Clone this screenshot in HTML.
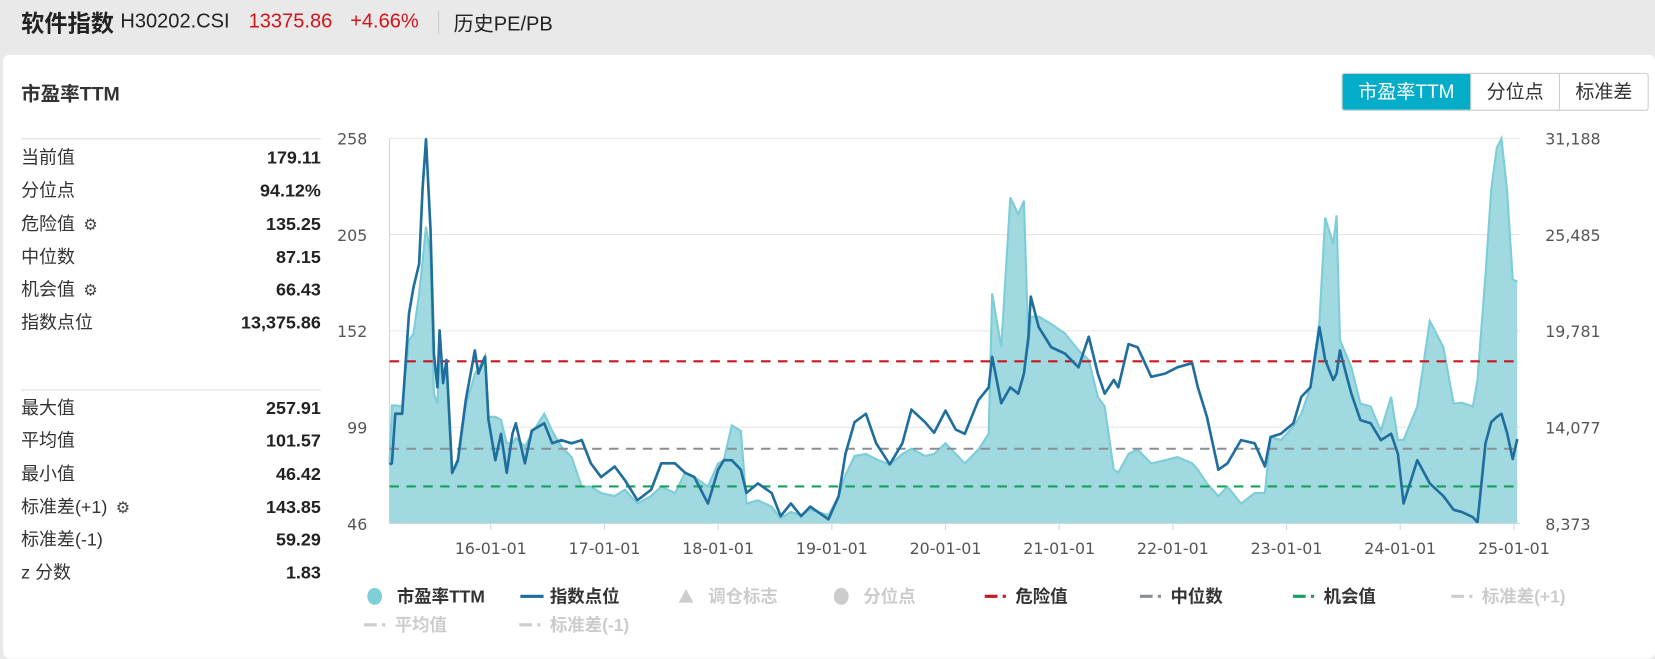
<!DOCTYPE html>
<html><head><meta charset="utf-8">
<style>
body{margin:0;width:1655px;height:658px;background:#e9e9e9;font-family:"Liberation Sans","Noto Sans CJK SC",sans-serif;overflow:hidden;position:relative}
#wrap{position:absolute;left:0;top:0;width:1568px;height:624px;transform:scale(1.05549);transform-origin:0 0}
.hdr{position:absolute;left:20px;top:7px;height:28px;display:flex;align-items:center;font-size:19px;color:#222}
.card{position:absolute;left:3px;top:52px;width:1565px;height:572px;background:#fff;border-radius:6px}
.title{position:absolute;left:20px;top:75px;font-size:18.5px;font-weight:bold;color:#333}
.btns{position:absolute;left:1271px;top:69px;height:34px;display:flex;border:1px solid #ccc;border-radius:3px;overflow:hidden}
.btns div{width:83px;text-align:center;line-height:34px;font-size:18px;color:#333;border-left:1px solid #ccc}
.btns div.on{background:#03adc8;color:#fff;border-left:none;width:121px}
.tbl{position:absolute;left:20px;width:284px;font-size:17px;color:#333}
.row{height:31.3px;display:flex;justify-content:space-between;align-items:baseline;line-height:31px}
.row b{font-weight:bold;color:#222}
.gear{display:inline-block;margin-left:8px;font-size:15px;color:#444}
</style></head><body>
<div id="wrap">
<div class="hdr">
<span style="font-weight:bold;font-size:22px">软件指数</span>
<span style="margin-left:6px">H30202.CSI</span>
<span style="margin-left:18px;color:#d4141a">13375.86</span>
<span style="margin-left:17px;color:#d4141a">+4.66%</span>
<span style="margin-left:18px;width:1px;height:22px;background:#ccc"></span>
<span style="margin-left:14px">历史PE/PB</span>
</div>
<div class="card"></div>
<div class="title">市盈率TTM</div>
<div class="btns">
<div class="on">市盈率TTM</div>
<div>分位点</div>
<div>标准差</div>
</div>
<div class="tbl" style="top:131px;border-top:1px solid #ddd;padding-top:2px">
<div class="row"><span>当前值</span><b>179.11</b></div>
<div class="row"><span>分位点</span><b>94.12%</b></div>
<div class="row"><span>危险值<span class="gear">⚙</span></span><b>135.25</b></div>
<div class="row"><span>中位数</span><b>87.15</b></div>
<div class="row"><span>机会值<span class="gear">⚙</span></span><b>66.43</b></div>
<div class="row"><span>指数点位</span><b>13,375.86</b></div>
</div>
<div class="tbl" style="top:369px;border-top:1px solid #ddd;padding-top:1px">
<div class="row"><span>最大值</span><b>257.91</b></div>
<div class="row"><span>平均值</span><b>101.57</b></div>
<div class="row"><span>最小值</span><b>46.42</b></div>
<div class="row"><span>标准差(+1)<span class="gear">⚙</span></span><b>143.85</b></div>
<div class="row"><span>标准差(-1)</span><b>59.29</b></div>
<div class="row"><span>z 分数</span><b>1.83</b></div>
</div>
<svg id="chart" width="1568" height="624" style="position:absolute;left:0;top:0"></svg>
</div>
<script>
const dates=[2015.11,2015.13,2015.16,2015.22,2015.28,2015.32,2015.37,2015.40,2015.43,2015.47,2015.50,2015.53,2015.55,2015.58,2015.61,2015.66,2015.71,2015.78,2015.86,2015.89,2015.95,2015.98,2016.04,2016.09,2016.14,2016.19,2016.22,2016.30,2016.36,2016.47,2016.54,2016.62,2016.71,2016.80,2016.88,2016.97,2017.09,2017.18,2017.29,2017.41,2017.50,2017.62,2017.71,2017.79,2017.91,2018.00,2018.05,2018.12,2018.20,2018.25,2018.35,2018.47,2018.55,2018.64,2018.73,2018.81,2018.97,2019.06,2019.12,2019.20,2019.30,2019.39,2019.51,2019.62,2019.70,2019.82,2019.90,2020.00,2020.09,2020.17,2020.29,2020.38,2020.41,2020.49,2020.57,2020.64,2020.69,2020.73,2020.75,2020.82,2020.93,2021.05,2021.17,2021.26,2021.34,2021.40,2021.48,2021.52,2021.61,2021.69,2021.81,2021.93,2022.04,2022.17,2022.22,2022.30,2022.40,2022.48,2022.60,2022.72,2022.81,2022.86,2022.95,2023.06,2023.13,2023.21,2023.29,2023.34,2023.41,2023.44,2023.47,2023.57,2023.65,2023.74,2023.83,2023.92,2023.98,2024.03,2024.15,2024.26,2024.38,2024.47,2024.54,2024.64,2024.68,2024.75,2024.80,2024.85,2024.89,2024.94,2024.99,2025.03];
const peValues=[78.5,111,111,110.5,147,150.6,172.6,190.7,209.3,194,117.5,112,136,123,131,74,78.5,110.5,128.5,131,138.4,104.7,104.7,103,90.2,90.2,93,88.4,95.4,106.4,97,88.4,82.6,66.3,66.3,62.8,61.1,64.6,57,61.1,66.3,62.8,74,71.6,66.3,79.1,80.8,100,97,57,58.8,55.3,48.9,52.4,50.6,53.6,50.6,61.1,72.7,83.2,84.3,81.4,78.5,84.3,87.2,83.2,84.3,90.2,84.3,79.1,86.7,95.4,172.6,143,225.5,216.2,223.7,143,159.9,159.9,155.8,150.6,141.3,136,115.7,110.5,75.6,74,84.3,86.7,79.1,80.8,82.6,79.1,75.6,68.1,61.1,66.3,57,62.8,62.8,93.6,92,99.5,106.4,120.9,157.5,214.4,199.9,215.6,147,132,112,110.5,97,115.7,92,92,110.5,157.5,143,112,112.5,110.5,125,183,229.6,252.8,257.9,229.6,180.2,179.1];
const indexValues=[11874,11936,14874,14874,20813,22373,23748,28248,31123,25748,18436,16436,19811,16686,18061,11373,12123,15686,18623,17248,18248,14498,12123,13686,11373,13686,14311,11936,13873,14311,13123,13311,13123,13311,11936,11123,11748,10936,9748,10373,11936,11936,11373,11123,9561,11561,12123,12123,11561,10186,10748,10186,8811,9561,8811,9373,8623,9998,12498,14373,14873,13123,11874,13123,15123,14373,13748,15061,13936,13686,15686,16436,18248,15498,16436,16061,17248,19436,21811,19998,18811,18436,17623,19436,17248,16061,16873,16436,18998,18811,17061,17248,17623,17873,16436,14686,11561,11936,13311,13123,11748,13498,13686,14311,15873,16436,19998,18061,16873,17248,18623,16061,14498,14311,13311,13686,12498,9561,12123,10748,9998,9186,9061,8748,8436,13123,14373,14686,14873,13748,12186,13376];
const leftTicks=[46,99,152,205,258];
const rightTickLabels=["8,373","14,077","19,781","25,485","31,188"];
const xTickYears=[2016,2017,2018,2019,2020,2021,2022,2023,2024,2025];
const xTickLabels=["16-01-01","17-01-01","18-01-01","19-01-01","20-01-01","21-01-01","22-01-01","23-01-01","24-01-01","25-01-01"];
const refValues=[135.25,87.15,66.43];
const refNames=["danger-line","median-line","opportunity-line"];
const refColors=["#c9171e","#8a8f96","#17a05a"];

const L=369,R=1440,T=131,B=496;
const xs=d=>465+(d-2016)*107.7;
const yL=v=>B-(v-46)/(258-46)*(B-T);
const yR=v=>B-(v-8373)/(31188-8373)*(B-T);
const svg=document.getElementById('chart');
const NS='http://www.w3.org/2000/svg';
function mk(tag,attrs){const e=document.createElementNS(NS,tag);for(const k in attrs)e.setAttribute(k,attrs[k]);svg.appendChild(e);return e;}
leftTicks.forEach((t,i)=>{
 const g=mk('line',{x1:L,x2:R,y1:yL(t),y2:yL(t),stroke:'#e6e6e6','stroke-width':1});
 
 
 const tl=mk('text',{x:348,y:yL(t)+6,'text-anchor':'end','font-size':15,fill:'#555','font-family':'DejaVu Sans, sans-serif'});
 tl.textContent=t;
 
 
 const tr=mk('text',{x:1464,y:yL(t)+6,'font-size':15,fill:'#555','font-family':'DejaVu Sans, sans-serif'});
 tr.textContent=rightTickLabels[i];
 
 
});
const ax=mk('line',{x1:L,x2:L,y1:T,y2:B,stroke:'#ccd6e0'});


let pd='M'+xs(dates[0])+','+B;
dates.forEach((d,i)=>{pd+=' L'+xs(d).toFixed(1)+','+yL(peValues[i]).toFixed(1);});
pd+=' L'+xs(dates[dates.length-1]).toFixed(1)+','+B+' Z';
const area=mk('path',{d:pd,fill:'#a1d9e0',stroke:'none'});


const peLine=mk('polyline',{points:dates.map((d,i)=>xs(d).toFixed(1)+','+yL(peValues[i]).toFixed(1)).join(' '),fill:'none',stroke:'#7ccdd7','stroke-width':2});


refValues.forEach((v,i)=>{
 const r=mk('line',{x1:L,x2:R,y1:yL(v),y2:yL(v),stroke:refColors[i],'stroke-width':2,'stroke-dasharray':'9,7'});
 
 
});
const idx=mk('polyline',{points:dates.map((d,i)=>xs(d).toFixed(1)+','+yR(indexValues[i]).toFixed(1)).join(' '),fill:'none',stroke:'#1f6e9e','stroke-width':2.5,'stroke-linejoin':'round'});


xTickYears.forEach((y,i)=>{
 const tk=mk('line',{x1:xs(y),x2:xs(y),y1:B,y2:B+6,stroke:'#ccd6e0'});
 
 
 const t=mk('text',{x:xs(y),y:525,'text-anchor':'middle','font-size':15,fill:'#555','font-family':'DejaVu Sans, sans-serif'});
 t.textContent=xTickLabels[i];
 
 
});
const bl=mk('line',{x1:L,x2:R,y1:B,y2:B,stroke:'#ccd6e0'});


const legend=[
 {x:348,y:565,type:'circle',c:'#7fcfd8',t:'市盈率TTM',tc:'#333',n:'legend-pe-ttm'},
 {x:493,y:565,type:'line',c:'#1f6e9e',t:'指数点位',tc:'#333',n:'legend-index-point'},
 {x:643,y:565,type:'tri',c:'#ccc',t:'调仓标志',tc:'#ccc',n:'legend-rebalance'},
 {x:790,y:565,type:'circle',c:'#ccc',t:'分位点',tc:'#ccc',n:'legend-percentile'},
 {x:933,y:565,type:'dash',c:'#c9171e',t:'危险值',tc:'#333',n:'legend-danger'},
 {x:1080,y:565,type:'dash',c:'#8a8f96',t:'中位数',tc:'#333',n:'legend-median'},
 {x:1225,y:565,type:'dash',c:'#17a05a',t:'机会值',tc:'#333',n:'legend-opportunity'},
 {x:1375,y:565,type:'dash',c:'#ccc',t:'标准差(+1)',tc:'#ccc',n:'legend-std-plus'},
 {x:345,y:592,type:'dash',c:'#ccc',t:'平均值',tc:'#ccc',n:'legend-mean'},
 {x:492,y:592,type:'dash',c:'#ccc',t:'标准差(-1)',tc:'#ccc',n:'legend-std-minus'}
];
legend.forEach(it=>{
 const g=document.createElementNS(NS,'g');svg.appendChild(g);
 
 
 let s;
 if(it.type==='circle'){s=document.createElementNS(NS,'ellipse');s.setAttribute('cx',it.x+7);s.setAttribute('cy',it.y);s.setAttribute('rx',7);s.setAttribute('ry',8);s.setAttribute('fill',it.c);}
 else if(it.type==='line'){s=document.createElementNS(NS,'rect');s.setAttribute('x',it.x);s.setAttribute('y',it.y-1.5);s.setAttribute('width',22);s.setAttribute('height',3);s.setAttribute('fill',it.c);}
 else if(it.type==='tri'){s=document.createElementNS(NS,'polygon');s.setAttribute('points',(it.x)+','+(it.y+6)+' '+(it.x+14)+','+(it.y+6)+' '+(it.x+7)+','+(it.y-7));s.setAttribute('fill',it.c);}
 else{s=document.createElementNS(NS,'path');s.setAttribute('d','M'+it.x+','+it.y+' h12 M'+(it.x+17)+','+it.y+' h3');s.setAttribute('stroke',it.c);s.setAttribute('stroke-width',3);}
 g.appendChild(s);
 const t=document.createElementNS(NS,'text');
 t.setAttribute('x',it.x+(it.type==='dash'?29:28));t.setAttribute('y',it.y+6);
 t.setAttribute('font-size',16.5);t.setAttribute('font-weight','bold');t.setAttribute('fill',it.tc);
 t.setAttribute('font-family','Liberation Sans, Noto Sans CJK SC, sans-serif');
 t.textContent=it.t;g.appendChild(t);
});
</script>
</body></html>
